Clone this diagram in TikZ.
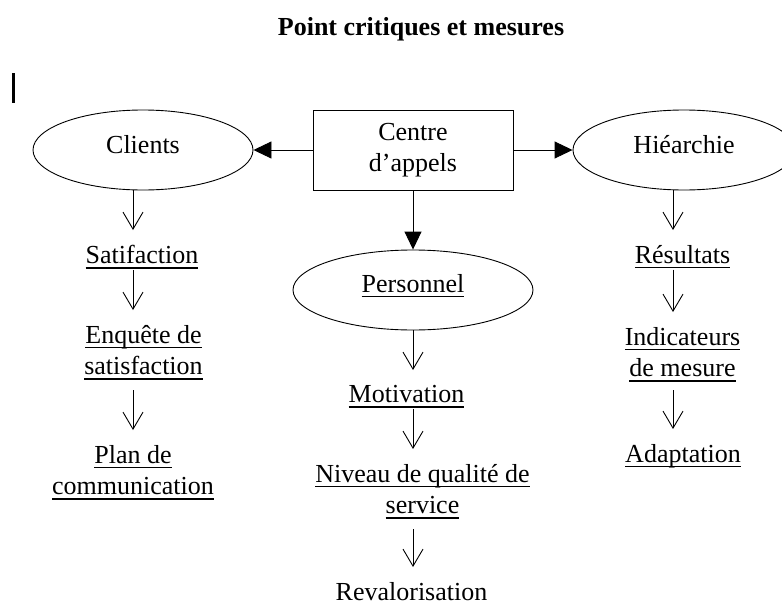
\documentclass[tikz,border=0pt]{standalone}
\usepackage{fontspec}
\setmainfont{Liberation Serif}
\usetikzlibrary{arrows.meta,shapes.geometric}
\newsavebox\ulbox
\newcommand\myul[1]{\sbox\ulbox{#1}\rlap{\rule[-5.2pt]{\wd\ulbox}{1.6pt}}\usebox\ulbox}
\begin{document}
\begin{tikzpicture}[x=1pt,y=-1pt,
  every node/.style={font=\fontsize{26}{31.5}\selectfont, inner sep=0pt},
  oval/.style={draw, ellipse, line width=0.9pt, text height=18pt},
  lbl/.style={anchor=north, align=center},
  va/.style={-{Straight Barb[length=17pt,width=20pt]}, line width=0.9pt, shorten >=15pt},
  fa/.style={-{Triangle[length=18pt,width=17pt]}, line width=0.9pt}]
\useasboundingbox (0,0) rectangle (782,605);
\clip (0,0) rectangle (782,605);
% title and cursor bar
\node[font=\fontsize{26}{30}\selectfont\bfseries, anchor=base] (title) at (421,35) {Point critiques et mesures};
\fill (12,73) rectangle (14.5,103);
% main shapes
\node[draw, line width=0.9pt, minimum width=200pt, minimum height=80pt, align=center] (cen) at (413,150) {Centre\\d’appels};
\node[oval, minimum width=220pt, minimum height=80pt, text depth=12pt] (cli) at (143,150) {Clients};
\node[oval, minimum width=222pt, minimum height=80pt, text depth=12pt] (hie) at (684,150) {Hiéarchie};
\node[oval, minimum width=240pt, minimum height=80pt, text depth=14pt] (per) at (413,290) {\myul{Personnel}};
% labels
\node[lbl] (sat) at (142,245) {\myul{Satifaction}};
\node[lbl] (enq) at (143.5,325) {\myul{Enquête de}\\\myul{satisfaction}};
\node[lbl] (pla) at (133,445) {\myul{Plan de}\\\myul{communication}};
\node[lbl] (mot) at (406.5,385) {\myul{Motivation}};
\node[lbl] (niv) at (422.5,464) {\myul{Niveau de qualité de}\\\myul{service}};
\node[lbl] (rev) at (411.5,582) {Revalorisation};
\node[lbl] (res) at (682.5,245) {\myul{Résultats}};
\node[lbl] (ind) at (682.5,327) {\myul{Indicateurs}\\\myul{de mesure}};
\node[lbl] (ada) at (683,444) {\myul{Adaptation}};
% arrow columns
\coordinate (ca) at (133,0);
\coordinate (cb) at (413,0);
\coordinate (cc) at (673,0);
% connectors
\draw[fa] (cen.west) -- (cli.east);
\draw[fa] (cen.east) -- (hie.west);
\draw[fa] (cen.south) -- (per.north);
\draw[va] (cli.south -| ca) -- (sat.north -| ca);
\draw[va, shorten <=1pt] (sat.south -| ca) -- (enq.north -| ca);
\draw[va, shorten <=10pt] (enq.south -| ca) -- (pla.north -| ca);
\draw[va] (per.south -| cb) -- (mot.north -| cb);
\draw[va, shorten <=1pt] (mot.south -| cb) -- (niv.north -| cb);
\draw[va, shorten <=10pt] (niv.south -| cb) -- (rev.north -| cb);
\draw[va] (hie.south -| cc) -- (res.north -| cc);
\draw[va, shorten <=1pt] (res.south -| cc) -- (ind.north -| cc);
\draw[va, shorten <=8pt] (ind.south -| cc) -- (ada.north -| cc);
\end{tikzpicture}
\end{document}
